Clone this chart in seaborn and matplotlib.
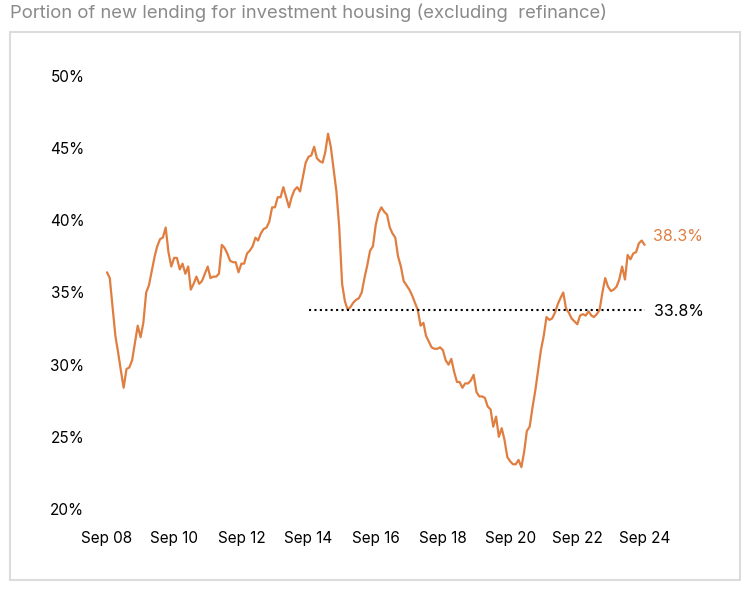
import numpy as np
import pandas as pd
import matplotlib.pyplot as plt
import matplotlib.dates as mdates
from matplotlib.patches import Rectangle
import seaborn as sns

# monthly share of new investment lending (%), Sep 2008 - Sep 2024
share = [
    36.4, 36.0, 34.0, 32.0, 30.8, 29.5, 28.4, 29.7, 29.8, 30.3, 31.5, 32.7,
    31.9, 32.9, 35.0, 35.5, 36.5, 37.5, 38.2, 38.7, 38.8, 39.5, 37.8, 36.8,
    37.4, 37.4, 36.6, 37.0, 36.3, 36.8, 35.2, 35.6, 36.1, 35.6, 35.8, 36.3,
    36.8, 36.0, 36.1, 36.1, 36.3, 38.3, 38.1, 37.7, 37.2, 37.1, 37.1, 36.4,
    37.0, 37.0, 37.7, 37.9, 38.2, 38.8, 38.6, 39.1, 39.4, 39.5, 39.9, 40.9,
    40.9, 41.6, 41.6, 42.3, 41.6, 40.9, 41.6, 42.1, 42.3, 42.0, 43.0, 44.0,
    44.4, 44.5, 45.1, 44.3, 44.1, 44.0, 44.7, 46.0, 45.1, 43.5, 42.0, 39.5,
    35.6, 34.4, 33.8, 34.0, 34.3, 34.5, 34.6, 35.0, 36.0, 36.9, 37.9, 38.2,
    39.7, 40.5, 40.9, 40.6, 40.4, 39.5, 39.1, 38.8, 37.5, 36.8, 35.8, 35.5,
    35.2, 34.8, 34.3, 33.8, 32.7, 32.9, 32.0, 31.6, 31.2, 31.1, 31.1, 31.2,
    31.0, 30.3, 30.0, 30.4, 29.5, 28.8, 28.8, 28.4, 28.7, 28.7, 28.9, 29.3,
    28.1, 27.8, 27.8, 27.7, 27.1, 26.9, 25.7, 26.4, 25.0, 25.6, 24.8, 23.6,
    23.3, 23.1, 23.1, 23.4, 22.9, 24.0, 25.4, 25.7, 27.0, 28.2, 29.6, 31.0,
    32.0, 33.3, 33.1, 33.2, 33.6, 34.2, 34.6, 35.0, 33.9, 33.6, 33.2, 33.0,
    32.8, 33.4, 33.5, 33.4, 33.7, 33.4, 33.3, 33.5, 33.8, 35.0, 36.0, 35.4,
    35.1, 35.2, 35.4, 35.9, 36.8, 35.9, 37.6, 37.3, 37.7, 37.8, 38.4, 38.6,
    38.3,
]
months = pd.date_range("2008-09-01", periods=len(share), freq="MS")

avg_value = 33.8
avg_start = "2014-09-01"
avg_end = "2024-09-01"
last_label = "38.3%"
avg_label = "33.8%"
y_ticks = [20, 25, 30, 35, 40, 45, 50]
x_ticks = pd.date_range("2008-09-01", "2024-09-01", freq="24MS")

df = pd.DataFrame({"month": months, "share": share})
avg_df = pd.DataFrame({"month": pd.to_datetime([avg_start, avg_end]),
                       "share": [avg_value, avg_value]})

sns.set_style("white")
plt.rcParams["font.family"] = ["Inter", "DejaVu Sans"]

orange = "#E07E40"
W, H = 750, 592
fig = plt.figure(figsize=(7.5, 5.92), dpi=100)

# light frame around the chart
fig.patches.append(Rectangle((10 / W, 1 - 580 / H), 730 / W, 548 / H,
                             transform=fig.transFigure, fill=False,
                             edgecolor="#dcdcdc", linewidth=1.5))
fig.text(10 / W, 1 - 13 / H, "Portion of new lending for investment housing (excluding  refinance)",
         ha="left", va="center", fontsize=13.3, color="#8a8a8a")

ax = fig.add_axes([90 / W, 1 - 509 / H, 570 / W, 433 / H])
sns.lineplot(data=df, x="month", y="share", ax=ax, color=orange, linewidth=1.6)
sns.lineplot(data=avg_df, x="month", y="share", ax=ax, color="black",
             linewidth=1.5, linestyle=(0, (1, 1.6)))

x0 = mdates.date2num(months[0])
per_month = 30.44
ax.set_xlim(x0 - 6.07 * per_month, x0 + 197.5 * per_month)
ax.set_ylim(20, 50)
ax.set_yticks(y_ticks)
ax.set_yticklabels([f"{t}%" for t in y_ticks])
ax.set_xticks(x_ticks)
ax.xaxis.set_major_formatter(mdates.DateFormatter("%b %y"))
ax.tick_params(axis="both", length=0, labelsize=11, colors="black")
ax.tick_params(axis="y", pad=4)
ax.tick_params(axis="x", pad=16)
ax.set_xlabel("")
ax.set_ylabel("")
sns.despine(ax=ax, left=True, bottom=True)

ax.annotate(last_label, xy=(months[-1], share[-1]), xytext=(6, 6),
            textcoords="offset points", ha="left", va="center",
            fontsize=11.5, color=orange)
ax.annotate(avg_label, xy=(pd.Timestamp(avg_end), avg_value), xytext=(7, -1),
            textcoords="offset points", ha="left", va="center",
            fontsize=11.5, color="black")

fig.savefig("out.png", dpi=100)
